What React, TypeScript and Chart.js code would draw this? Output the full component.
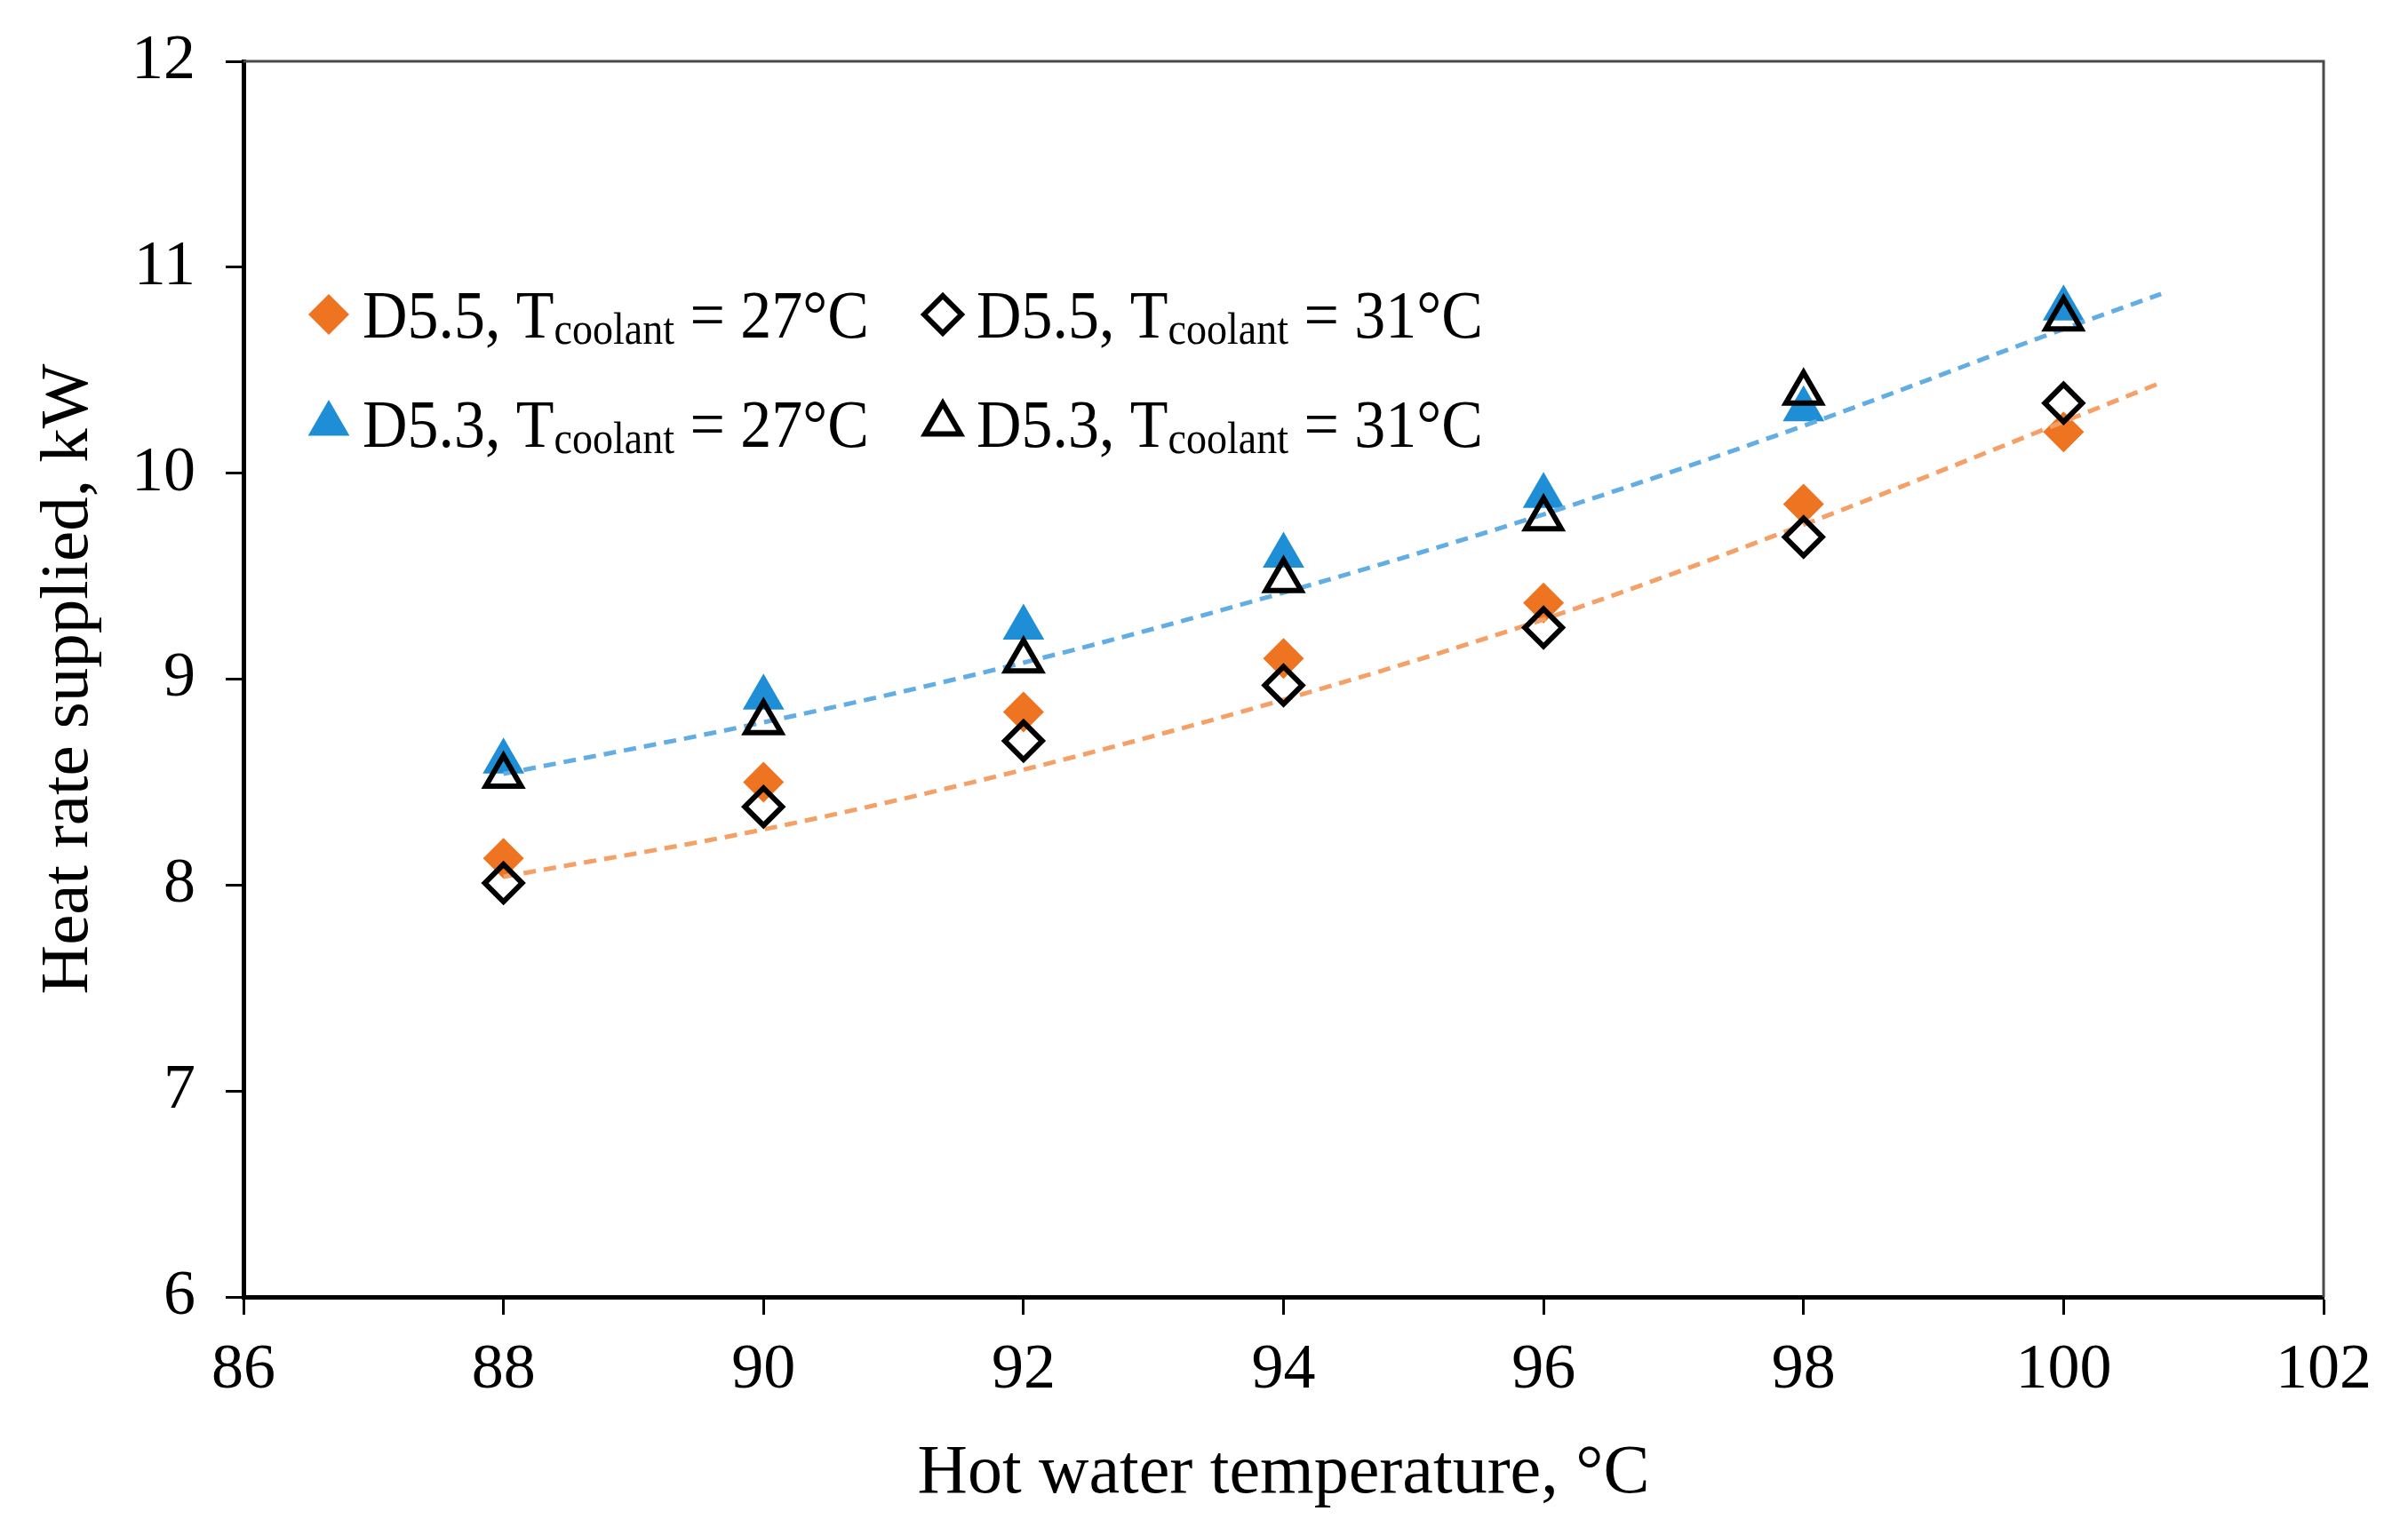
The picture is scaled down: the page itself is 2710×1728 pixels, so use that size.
import { useEffect, useRef } from 'react'
import { Chart, registerables } from 'chart.js'
import { drawPoint } from 'chart.js/helpers'

Chart.register(...registerables)

const FONT = "'Liberation Serif', 'Times New Roman', serif"

// hot water temperature, °C
const TEMPS = [88, 90, 92, 94, 96, 98, 100]

// heat rate supplied, kW
const D55_T27 = [8.13, 8.5, 8.84, 9.1, 9.37, 9.85, 10.2]
const D55_T31 = [8.01, 8.38, 8.7, 8.97, 9.25, 9.69, 10.34]
const D53_T27 = [8.6, 8.91, 9.25, 9.6, 9.89, 10.31, 10.8]
const D53_T31 = [8.53, 8.79, 9.09, 9.48, 9.78, 10.39, 10.75]

// dashed trend lines
const TREND_X = [88, 90, 92, 94, 96, 98, 100, 100.75]
const TREND_D55 = [8.04, 8.27, 8.56, 8.9, 9.29, 9.75, 10.25, 10.44]
const TREND_D53 = [8.54, 8.79, 9.08, 9.42, 9.8, 10.23, 10.7, 10.87]

const ORANGE = '#EE7421'
const BLUE = '#1E8ED6'
const ORANGE_TREND = '#F5A066'
const BLUE_TREND = '#62ADE4'

const pts = (xs: number[], ys: number[]) => xs.map((x, i) => ({ x, y: ys[i] }))

type LegendItem = {
  lead: string
  tail: string
  pointStyle: 'rectRot' | 'triangle'
  radius: number
  fill: string
  stroke: string
  borderWidth: number
  col: number
  row: number
}

const LEGEND: LegendItem[] = [
  { lead: 'D5.5, T', tail: ' = 27°C', pointStyle: 'rectRot', radius: 23, fill: ORANGE, stroke: ORANGE, borderWidth: 0, col: 0, row: 0 },
  { lead: 'D5.5, T', tail: ' = 31°C', pointStyle: 'rectRot', radius: 21, fill: 'rgba(0,0,0,0)', stroke: '#000', borderWidth: 6, col: 1, row: 0 },
  { lead: 'D5.3, T', tail: ' = 27°C', pointStyle: 'triangle', radius: 27, fill: BLUE, stroke: BLUE, borderWidth: 0, col: 0, row: 1 },
  { lead: 'D5.3, T', tail: ' = 31°C', pointStyle: 'triangle', radius: 23, fill: 'rgba(0,0,0,0)', stroke: '#000', borderWidth: 6, col: 1, row: 1 },
]

// squeezed text, the source figure's type is narrow
function narrowText(ctx: CanvasRenderingContext2D, text: string, x: number, y: number, sx: number) {
  ctx.save()
  ctx.translate(x, y)
  ctx.scale(sx, 1)
  ctx.fillText(text, 0, 0)
  ctx.restore()
  return ctx.measureText(text).width * sx
}

const subLegend = {
  id: 'subLegend',
  afterDraw(chart: Chart) {
    const { ctx, chartArea } = chart
    const colX = [chartArea.left + 96, chartArea.left + 787]
    const rowY = [chartArea.top + 311, chartArea.top + 434]
    const sx = 0.92
    ctx.save()
    LEGEND.forEach((l) => {
      const mx = colX[l.col]
      const base = rowY[l.row]
      ctx.fillStyle = l.fill
      ctx.strokeStyle = l.stroke
      ctx.lineWidth = l.borderWidth
      drawPoint(
        ctx,
        { pointStyle: l.pointStyle, radius: l.radius, rotation: 0, borderWidth: l.borderWidth },
        mx,
        base - 26
      )
      ctx.fillStyle = '#000'
      ctx.textAlign = 'left'
      ctx.textBaseline = 'alphabetic'
      let x = mx + 38
      ctx.font = `76px ${FONT}`
      x += narrowText(ctx, l.lead, x, base, sx)
      ctx.font = `50px ${FONT}`
      x += narrowText(ctx, 'coolant', x, base + 7, sx)
      ctx.font = `76px ${FONT}`
      narrowText(ctx, l.tail, x, base, sx)
    })
    ctx.restore()
  },
}

const frame = {
  id: 'frame',
  beforeDatasetsDraw(chart: Chart) {
    const { ctx, chartArea } = chart
    ctx.save()
    ctx.strokeStyle = '#4a4a4a'
    ctx.lineWidth = 3
    ctx.beginPath()
    ctx.moveTo(chartArea.left, chartArea.top)
    ctx.lineTo(chartArea.right, chartArea.top)
    ctx.lineTo(chartArea.right, chartArea.bottom)
    ctx.stroke()
    ctx.restore()
  },
}

export default function App() {
  const ref = useRef<HTMLCanvasElement>(null)

  useEffect(() => {
    if (!ref.current) return

    const chart = new Chart(ref.current, {
      type: 'scatter',
      data: {
        datasets: [
          {
            label: 'D5.3, Tcoolant = 31°C',
            data: pts(TEMPS, D53_T31),
            pointStyle: 'triangle',
            pointRadius: 23,
            pointBorderWidth: 6,
            pointBorderColor: '#000',
            pointBackgroundColor: 'rgba(0,0,0,0)',
          },
          {
            label: 'D5.5, Tcoolant = 31°C',
            data: pts(TEMPS, D55_T31),
            pointStyle: 'rectRot',
            pointRadius: 21,
            pointBorderWidth: 6,
            pointBorderColor: '#000',
            pointBackgroundColor: 'rgba(0,0,0,0)',
          },
          {
            label: 'D5.3 trend',
            data: pts(TREND_X, TREND_D53),
            showLine: true,
            pointRadius: 0,
            borderColor: BLUE_TREND,
            borderWidth: 5,
            borderDash: [14, 9],
            cubicInterpolationMode: 'monotone',
          },
          {
            label: 'D5.5 trend',
            data: pts(TREND_X, TREND_D55),
            showLine: true,
            pointRadius: 0,
            borderColor: ORANGE_TREND,
            borderWidth: 5,
            borderDash: [14, 9],
            cubicInterpolationMode: 'monotone',
          },
          {
            label: 'D5.3, Tcoolant = 27°C',
            data: pts(TEMPS, D53_T27),
            pointStyle: 'triangle',
            pointRadius: 27,
            pointBorderWidth: 0,
            pointBackgroundColor: BLUE,
            pointBorderColor: BLUE,
          },
          {
            label: 'D5.5, Tcoolant = 27°C',
            data: pts(TEMPS, D55_T27),
            pointStyle: 'rectRot',
            pointRadius: 23,
            pointBorderWidth: 0,
            pointBackgroundColor: ORANGE,
            pointBorderColor: ORANGE,
          },
        ],
      },
      options: {
        responsive: false,
        devicePixelRatio: 1,
        animation: false,
        layout: { padding: { left: 0, top: 69, right: 95, bottom: 0 } },
        plugins: {
          legend: { display: false },
          tooltip: { enabled: false },
        },
        scales: {
          x: {
            type: 'linear',
            min: 86,
            max: 102,
            ticks: {
              stepSize: 2,
              color: '#000',
              padding: 20,
              font: { family: FONT, size: 72 },
            },
            grid: {
              drawOnChartArea: false,
              drawTicks: true,
              tickLength: 20,
              tickWidth: 3,
              color: '#000',
            },
            border: { color: '#000', width: 5 },
            title: {
              display: true,
              text: 'Hot water temperature, °C',
              color: '#000',
              font: { family: FONT, size: 78 },
              padding: { top: 0, bottom: 22 },
            },
            afterFit: (s: any) => {
              s.height = 268
              s.paddingLeft = 0
              s.paddingRight = 0
            },
          },
          y: {
            type: 'linear',
            min: 6,
            max: 12,
            ticks: {
              stepSize: 1,
              color: '#000',
              padding: 34,
              font: { family: FONT, size: 72 },
            },
            grid: {
              drawOnChartArea: false,
              drawTicks: true,
              tickLength: 20,
              tickWidth: 3,
              color: '#000',
            },
            border: { color: '#000', width: 5 },
            title: {
              display: true,
              text: 'Heat rate supplied, kW',
              color: '#000',
              font: { family: FONT, size: 77 },
              padding: { top: 32, bottom: 0 },
            },
            afterFit: (s: any) => {
              s.width = 274
              s.paddingTop = 0
              s.paddingBottom = 0
            },
          },
        },
      },
      plugins: [frame, subLegend],
    })

    return () => chart.destroy()
  }, [])

  return (
    <div style={{ position: 'fixed', left: 0, top: 0, width: 2710, height: 1728, background: '#fff' }}>
      <canvas
        ref={ref}
        width={2710}
        height={1728}
        style={{ width: 2710, height: 1728 }}
        role="img"
        aria-label="Heat rate supplied versus hot water temperature"
      />
    </div>
  )
}
